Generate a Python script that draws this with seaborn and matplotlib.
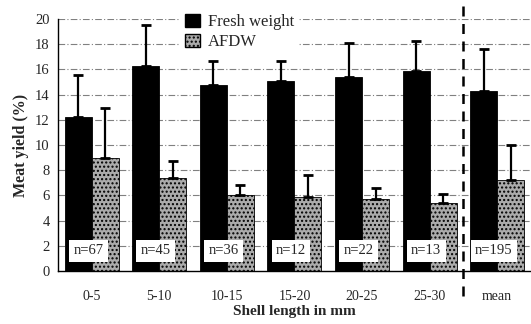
import numpy as np
import pandas as pd
import seaborn as sns
import matplotlib.pyplot as plt
from matplotlib.patches import Patch

groups = ["0-5", "5-10", "10-15", "15-20", "20-25", "25-30", "mean"]
fresh = [12.2, 16.3, 14.8, 15.1, 15.4, 15.9, 14.3]
fresh_sd = [3.4, 3.2, 1.9, 1.6, 2.7, 2.4, 3.3]
afdw = [9.0, 7.4, 6.0, 5.9, 5.7, 5.4, 7.2]
afdw_sd = [3.9, 1.3, 0.8, 1.7, 0.9, 0.7, 2.8]
n_labels = ["n=67", "n=45", "n=36", "n=12", "n=22", "n=13", "n=195"]

df = pd.DataFrame({
    "group": groups * 2,
    "value": fresh + afdw,
    "type": ["Fresh weight"] * 7 + ["AFDW"] * 7,
})

sns.set_style("white")
plt.rcParams["font.family"] = ["Liberation Serif", "DejaVu Serif"]
plt.rcParams["hatch.color"] = "#5a5a5a"

fig = plt.figure(figsize=(5.31, 3.24), dpi=100)
ax = fig.add_axes([0.109, 0.164, 0.891, 0.777])

# grid lines
for y in range(2, 21, 2):
    ax.axhline(y, color="#808080", lw=0.8, ls=(0, (6, 2, 1, 2)), zorder=0)

sns.barplot(data=df, x="group", y="value", hue="type",
            palette={"Fresh weight": "black", "AFDW": "#ababab"},
            width=0.8, saturation=1, legend=False, ax=ax, zorder=2)

bars = ax.patches
for i, p in enumerate(bars):
    p.set_edgecolor("black")
    p.set_linewidth(0.6)
    if i >= 7:
        p.set_hatch("....")

errs = fresh_sd + afdw_sd
vals = fresh + afdw
for p, v, e in zip(bars, vals, errs):
    xc = p.get_x() + p.get_width() / 2
    ax.errorbar(xc, v, yerr=[[0], [e]], fmt="none", ecolor="black",
                elinewidth=1.6, capsize=3.5, capthick=2, zorder=3)

for i, lab in enumerate(n_labels):
    ax.text(i - 0.05, 1.6, lab, ha="center", va="center", fontsize=10.5,
            zorder=4, bbox=dict(boxstyle="square,pad=0.3", fc="white", ec="none"))

ax.axvline(5.5, color="black", lw=1.8, ls=(0, (4, 3)), zorder=5, clip_on=False,
           ymin=-0.1, ymax=1.06)

ax.set_xlim(-0.5, 6.5)
ax.set_ylim(0, 20)
ax.set_yticks(range(0, 21, 2))
ax.set_xticks(np.arange(-0.5, 6.5, 1), minor=True)
ax.tick_params(axis="x", which="major", length=0, labelsize=10, pad=14)
ax.tick_params(axis="x", which="minor", length=4, direction="out", width=1)
ax.tick_params(axis="y", length=4, direction="out", width=1, labelsize=10.5, pad=2)
for s in ["top", "right"]:
    ax.spines[s].set_visible(False)
for s in ["left", "bottom"]:
    ax.spines[s].set_color("black")
    ax.spines[s].set_linewidth(1)

ax.set_xlabel("Shell length in mm", fontsize=11, fontweight="bold", labelpad=1)
ax.set_ylabel("Meat yield (%)", fontsize=11.5, fontweight="bold", labelpad=4)

handles = [Patch(fc="black", ec="black", label="Fresh weight"),
           Patch(fc="#ababab", ec="black", hatch="....", label="AFDW")]
leg = ax.legend(handles=handles, loc="upper left", bbox_to_anchor=(0.24, 1.075),
                frameon=True, fontsize=12, handlelength=0.9, handleheight=0.9,
                handletextpad=0.5, labelspacing=0.2, borderpad=0.3, fancybox=False)
leg.get_frame().set_facecolor("white")
leg.get_frame().set_edgecolor("none")
leg.get_frame().set_alpha(1)
leg.set_zorder(6)

fig.savefig("out.png", dpi=100)
